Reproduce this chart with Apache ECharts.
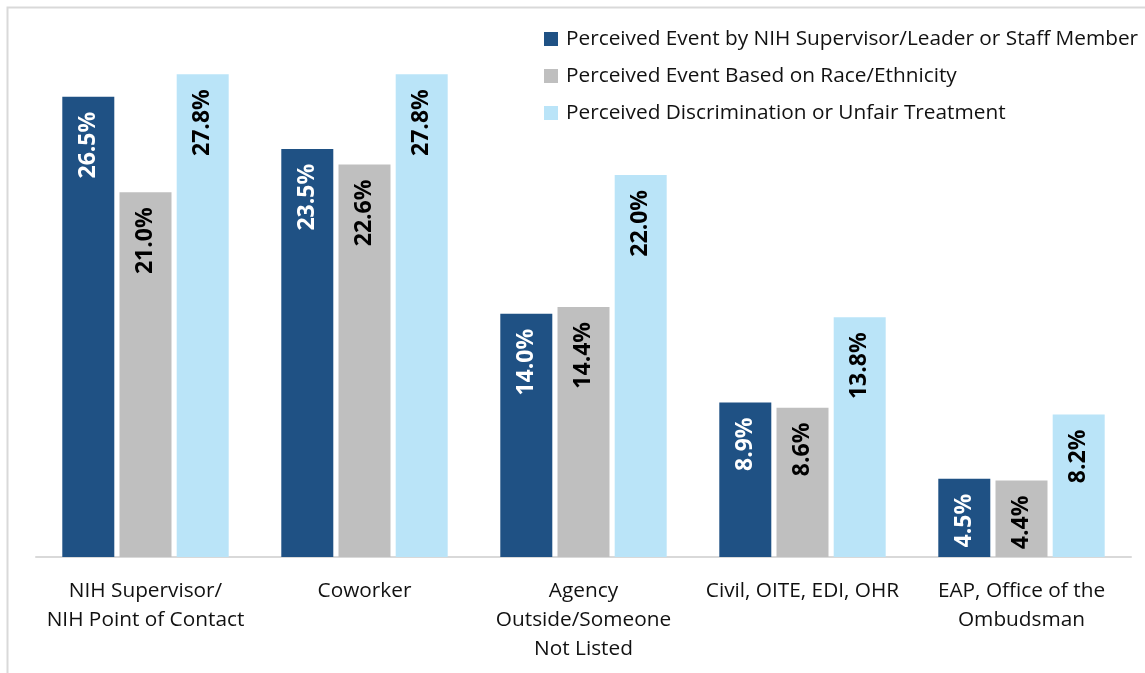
<!DOCTYPE html>
<html>
<head>
<meta charset="utf-8">
<script src="https://cdn.jsdelivr.net/npm/echarts@6/dist/echarts.min.js"></script>
<style>
html,body{margin:0;padding:0;background:#fff;}
#chart{width:1145px;height:673px;}
</style>
</head>
<body>
<div id="chart"></div>
<script>
const categories = [
  "NIH Supervisor/\nNIH Point of Contact",
  "Coworker",
  "Agency\nOutside/Someone\nNot Listed",
  "Civil, OITE, EDI, OHR",
  "EAP, Office of the\nOmbudsman"
];
const seriesNames = [
  "Perceived Event by NIH Supervisor/Leader or Staff Member",
  "Perceived Event Based on Race/Ethnicity",
  "Perceived Discrimination or Unfair Treatment"
];
const supervisorValues = [26.5, 23.5, 14.0, 8.9, 4.5];
const raceValues = [21.0, 22.6, 14.4, 8.6, 4.4];
const discriminationValues = [27.8, 27.8, 22.0, 13.8, 8.2];
const colors = ["#1F5184", "#BFBFBF", "#BAE4F8"];
const labelColors = ["#FFFFFF", "#000000", "#000000"];

const FONT = "'Open Sans', 'Noto Sans', sans-serif";
const allValues = [supervisorValues, raceValues, discriminationValues];

const chart = echarts.init(document.getElementById('chart'), null, {renderer: 'canvas'});
chart.setOption({
  backgroundColor: '#fff',
  animation: false,
  graphic: [{
    type: 'rect',
    shape: {x: 7.5, y: 7.5, width: 1200, height: 700},
    style: {fill: 'none', stroke: '#D9D9D9', lineWidth: 2},
    silent: true,
    z: -1
  }],
  legend: {
    orient: 'vertical',
    left: 539,
    top: 22,
    itemWidth: 14,
    itemHeight: 14,
    itemGap: 13,
    icon: 'rect',
    textStyle: {fontFamily: FONT, fontSize: 20.8, color: '#111', lineHeight: 24, padding: [0, 0, 0, 3]},
    data: seriesNames
  },
  grid: {left: 36, right: 14, top: 36, bottom: 116, containLabel: false},
  xAxis: {
    type: 'category',
    data: categories,
    axisLine: {show: true, lineStyle: {color: '#D9D9D9', width: 2}},
    axisTick: {show: false},
    axisLabel: {
      interval: 0,
      margin: 20,
      fontFamily: FONT,
      fontSize: 20.8,
      lineHeight: 29,
      color: '#111'
    }
  },
  yAxis: {
    type: 'value',
    min: 0,
    max: 30,
    show: false,
    splitLine: {show: false}
  },
  series: allValues.map((vals, i) => ({
    name: seriesNames[i],
    type: 'bar',
    data: vals,
    barWidth: 52,
    barGap: '10%',
    itemStyle: {color: colors[i]},
    label: {
      show: true,
      position: 'insideTop',
      rotate: 90,
      align: 'right',
      verticalAlign: 'middle',
      distance: 15,
      formatter: p => p.value.toFixed(1) + '%',
      fontFamily: FONT,
      fontWeight: 'bold',
      fontSize: 23,
      color: labelColors[i]
    }
  }))
});
</script>
</body>
</html>
